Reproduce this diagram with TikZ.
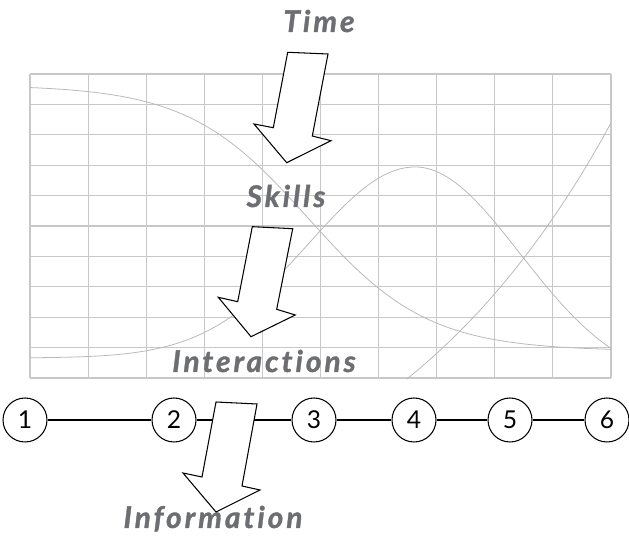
\documentclass[tikz,border=0pt]{standalone}
\usepackage{fontspec}
\setmainfont{Lato}
\newfontfamily\wordfont{Lato}[LetterSpace=10,Ligatures=NoCommon,BoldItalicFeatures={FakeBold=1.2}]

\begin{document}
\begin{tikzpicture}[x=0.02cm,y=-0.02cm]
    \definecolor{labgray}{RGB}{109,110,113}
    \definecolor{gridgray}{RGB}{200,200,200}
    \definecolor{curvegray}{RGB}{185,185,185}
    \tikzset{
      word/.style={anchor=base,text=labgray,font=\wordfont\bfseries\itshape\fontsize{17}{19}\selectfont},
      stage/.style={circle,draw,line width=0.6pt,minimum size=0.88cm,inner sep=0pt,font=\fontsize{14}{16}\selectfont},
      bigarrow/.style={draw=black,fill=white,line width=0.6pt,line join=miter},
      curve/.style={curvegray,line width=0.45pt}
    }
    \useasboundingbox (0,0) rectangle (629,546);
    %grid
    \foreach \i in {0,...,10} {
      \draw[gridgray,line width=0.6pt] ({30+58.1*\i},74) -- ({30+58.1*\i},378);
      \draw[gridgray,line width=0.6pt] (30,{74+30.4*\i}) -- (611,{74+30.4*\i});
    }
    %curves
    \draw[curve] plot[domain=30:611,samples=120] (\x,{351-266/(1+exp((\x-308)/60))});
    \draw[curve] plot[domain=30:415,samples=80] (\x,{167+191*(1-exp(-((\x-415)/105)^2/2))})
      -- plot[domain=415:611,samples=50] (\x,{167+220*(1-exp(-((\x-415)/105)^2/2))});
    \draw[curve] plot[domain=407:611,samples=60] (\x,{379-203*(exp((\x-407)/250)-1)});
    %words
    \node[word] (time) at (319,32) {Time};
    \node[word] (skills) at (286,207) {Skills};
    \node[word] (interactions) at (264,372) {Interactions};
    \node[word] (information) at (213,528) {Information};
    %stages
    \foreach \n/\x in {1/25,2/174,3/314,4/414,5/510,6/607}
      \node[stage] (s\n) at (\x,420) {\n};
    \foreach \a/\b in {1/2,2/3,3/4,4/5,5/6}
      \draw[line width=0.6pt] (s\a) -- (s\b);
    %arrows
    \draw[bigarrow] (287.7,52.3) -- (273.3,127.7) -- (254,124) -- (286.7,162.7) -- (331,140.7) -- (312.3,136) -- (328,54) -- cycle;
    \draw[bigarrow] (252.3,226.7) -- (237.7,301.7) -- (218.3,297.3) -- (251,336.7) -- (295.3,315) -- (276.7,309.3) -- (292.7,228.7) -- cycle;
    \draw[bigarrow] (216,402) -- (202,477) -- (183,473) -- (216,512) -- (260,490) -- (242,486) -- (257,404) -- cycle;
\end{tikzpicture}
\end{document}
